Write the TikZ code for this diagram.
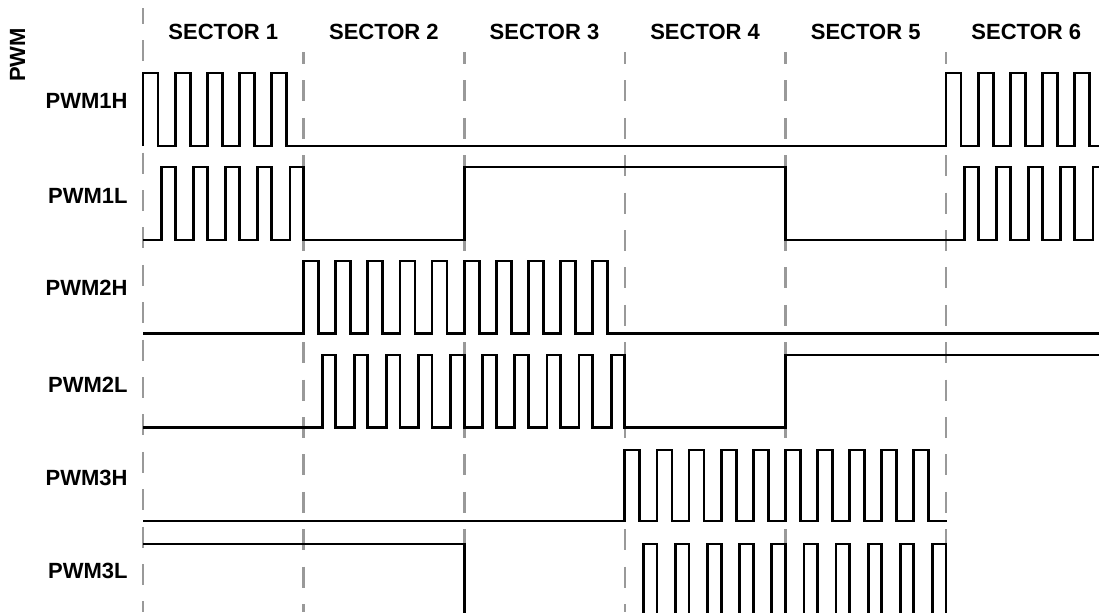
\documentclass[tikz,border=0pt]{standalone}
\usepackage{fontspec}
\setmainfont{Liberation Sans}
\definecolor{gridgray}{HTML}{999999}
\newcommand{\secw}{160.6}
\newcommand{\pwmper}{32.12}
\tikzset{
  sig/.style={line width=1.4pt, line join=miter, color=black},
  secline/.style={draw=gridgray, line width=1.3pt, dash pattern=on 10.5pt off 8.2pt},
  seclabel/.style={font=\fontsize{11}{13}\selectfont\bfseries, inner sep=0pt},
  chlabel/.style={anchor=east, font=\fontsize{11}{13}\selectfont\bfseries, inner sep=0pt}}

\begin{document}
\begin{tikzpicture}[x=0.5pt, y=-0.5pt]
    \clip (0,0) rectangle (1099,612);
    % sector boundaries
    \draw[secline, dash phase=2.5pt] (143,8) -- (143,612);
    \foreach \i in {1,...,5}
      \draw[secline, dash phase=4.5pt] ({143+\i*\secw},52) -- ({143+\i*\secw},612);
    % titles
    \foreach \i in {1,...,6}
      \node[seclabel] (sec\i) at ({143+(\i-0.5)*\secw},32) {SECTOR \i};
    \node[seclabel, rotate=90] (pwm) at (17.5,55) {PWM};
    \node[chlabel] (pwm1h) at (128,101) {PWM1H};
    \node[chlabel] (pwm1l) at (128,195.5) {PWM1L};
    \node[chlabel] (pwm2h) at (128,288) {PWM2H};
    \node[chlabel] (pwm2l) at (128,385) {PWM2L};
    \node[chlabel] (pwm3h) at (128,478) {PWM3H};
    \node[chlabel] (pwm3l) at (128,571) {PWM3L};
    % PWM1H
    \draw[sig] (143,146)
      \foreach \k in {0,...,4} {-- ({143+\k*\pwmper},146) -- ({143+\k*\pwmper},73)
        -- ({158+\k*\pwmper},73) -- ({158+\k*\pwmper},146)}
      -- (946,146)
      \foreach \k in {0,...,4} {-- ({946+\k*\pwmper},146) -- ({946+\k*\pwmper},73)
        -- ({961+\k*\pwmper},73) -- ({961+\k*\pwmper},146)}
      -- (1110,146);
    % PWM1L
    \draw[sig] (143,240)
      \foreach \k in {0,...,4} {-- ({161.5+\k*\pwmper},240) -- ({161.5+\k*\pwmper},167)
        -- ({175.12+\k*\pwmper},167) -- ({175.12+\k*\pwmper},240)}
      -- (464.2,240) -- (464.2,167) -- (785.4,167) -- (785.4,240)
      \foreach \k in {0,...,4} {-- ({964.5+\k*\pwmper},240) -- ({964.5+\k*\pwmper},167)
        -- ({978.12+\k*\pwmper},167) -- ({978.12+\k*\pwmper},240)};
    % PWM2H
    \draw[sig] (143,333.5)
      \foreach \k in {0,...,9} {-- ({303.6+\k*\pwmper},333.5) -- ({303.6+\k*\pwmper},261)
        -- ({318.6+\k*\pwmper},261) -- ({318.6+\k*\pwmper},333.5)}
      -- (1110,333.5);
    % PWM2L
    \draw[sig] (143,427.5)
      \foreach \k in {0,...,9} {-- ({322.1+\k*\pwmper},427.5) -- ({322.1+\k*\pwmper},355)
        -- ({335.72+\k*\pwmper},355) -- ({335.72+\k*\pwmper},427.5)}
      -- (785.4,427.5) -- (785.4,355) -- (1110,355);
    % PWM3H
    \draw[sig] (143,521)
      \foreach \k in {0,...,9} {-- ({624.8+\k*\pwmper},521) -- ({624.8+\k*\pwmper},450)
        -- ({639.8+\k*\pwmper},450) -- ({639.8+\k*\pwmper},521)}
      -- (947,521);
    % PWM3L
    \draw[sig] (143,544) -- (464.2,544) -- (464.2,617)
      \foreach \k in {0,...,9} {-- ({643.3+\k*\pwmper},617) -- ({643.3+\k*\pwmper},544)
        -- ({656.92+\k*\pwmper},544) -- ({656.92+\k*\pwmper},617)};
  \end{tikzpicture}
\end{document}
